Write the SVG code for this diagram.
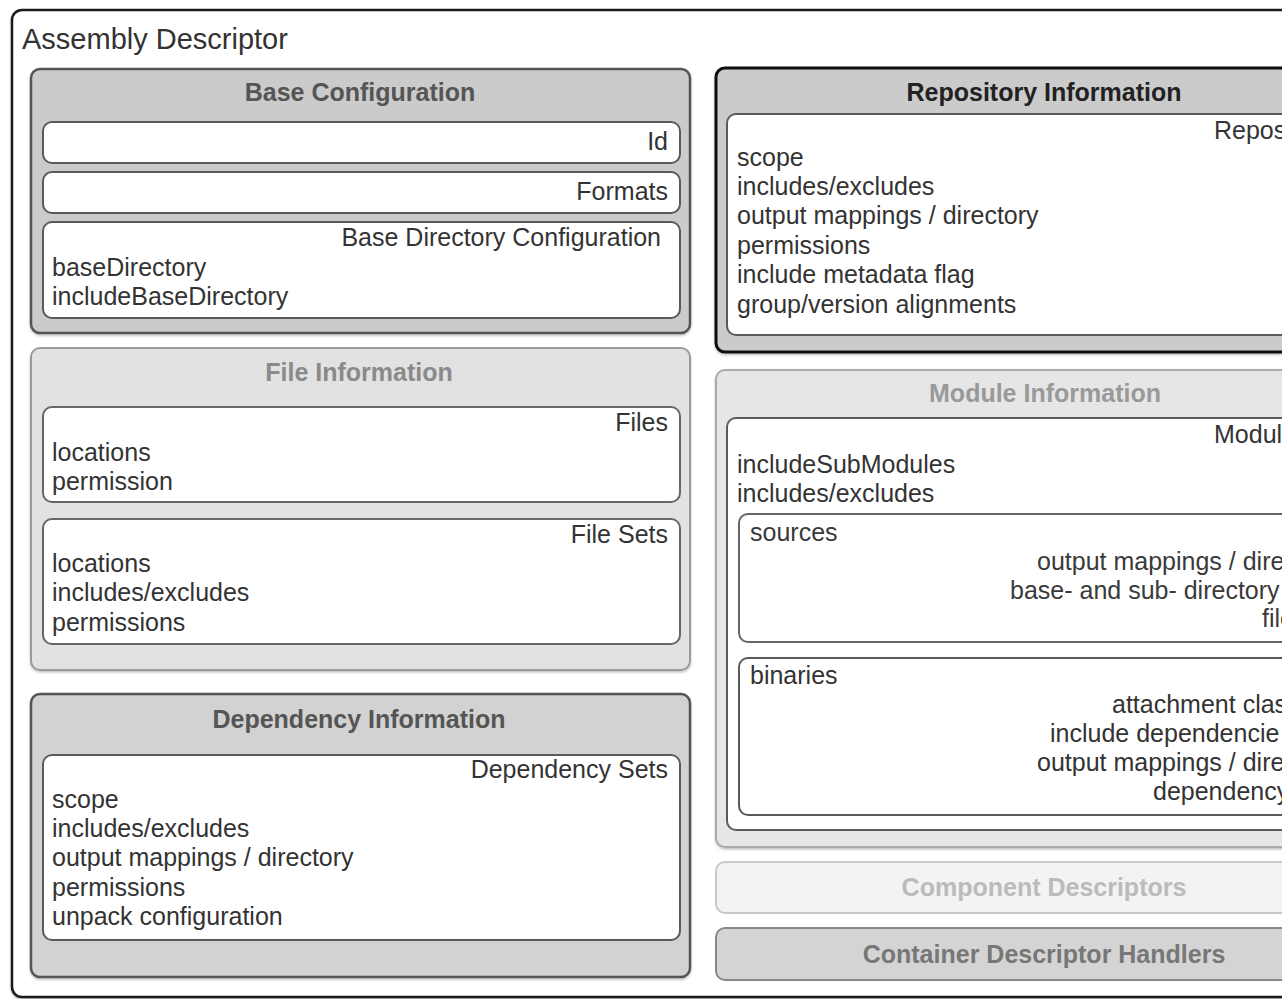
<svg xmlns="http://www.w3.org/2000/svg" width="1282" height="999" viewBox="0 0 1282 999">
<style>
text{font-family:"Liberation Sans",Arial,Helvetica,sans-serif;font-size:25px;fill:#333}
.t{font-weight:bold;text-anchor:middle}
.r{text-anchor:end}
.box{fill:#fff;stroke:#5a5a5a;stroke-width:2}
.sp{fill:#3a3a3a}
</style>
<defs>
<filter id="sh" x="-5%" y="-5%" width="110%" height="110%">
<feDropShadow dx="0" dy="1.5" stdDeviation="1.2" flood-color="#000" flood-opacity="0.25"/>
</filter>
</defs>
<rect x="0" y="0" width="1282" height="999" fill="#fff"/>
<g id="assembly-descriptor">
<rect x="12" y="10" width="1320" height="987" rx="10" fill="#fff" stroke="#1a1a1a" stroke-width="2.5" filter="url(#sh)"/>
<text x="22" y="49" style="font-size:29px">Assembly Descriptor</text>
</g>
<g id="base-configuration">
<rect x="31" y="69" width="659" height="264" rx="9" fill="#cbcbcb" stroke="#555" stroke-width="2.5" filter="url(#sh)"/>
<text class="t" x="360" y="101" style="fill:#555">Base Configuration</text>
<rect class="box" x="43" y="122" width="637" height="41" rx="9"/>
<text class="r" x="668" y="150">Id</text>
<rect class="box" x="43" y="172" width="637" height="41" rx="9"/>
<text class="r" x="668" y="200">Formats</text>
<rect class="box" x="43" y="222" width="637" height="96" rx="9"/>
<text class="r" x="661" y="246">Base Directory Configuration</text>
<text x="52" y="276">baseDirectory</text>
<text x="52" y="305">includeBaseDirectory</text>
</g>
<g id="file-information">
<rect x="31" y="348" width="659" height="322" rx="9" fill="#e2e2e2" stroke="#9a9a9a" stroke-width="2" filter="url(#sh)"/>
<text class="t" x="359" y="381" style="fill:#8a8a8a">File Information</text>
<rect class="box" x="43" y="407" width="637" height="95" rx="9" style="stroke:#666"/>
<text class="r" x="668" y="431">Files</text>
<text x="52" y="461">locations</text>
<text x="52" y="490">permission</text>
<rect class="box" x="43" y="519" width="637" height="125" rx="9" style="stroke:#666"/>
<text class="r" x="668" y="543">File Sets</text>
<text x="52" y="572">locations</text>
<text x="52" y="601">includes/excludes</text>
<text x="52" y="631">permissions</text>
</g>
<g id="dependency-information">
<rect x="31" y="694" width="659" height="283" rx="9" fill="#d2d2d2" stroke="#555" stroke-width="2.5" filter="url(#sh)"/>
<text class="t" x="359" y="728" style="fill:#555">Dependency Information</text>
<rect class="box" x="43" y="755" width="637" height="185" rx="9"/>
<text class="r" x="668" y="778">Dependency Sets</text>
<text x="52" y="808">scope</text>
<text x="52" y="837">includes/excludes</text>
<text x="52" y="866">output mappings / directory</text>
<text x="52" y="896">permissions</text>
<text x="52" y="925">unpack configuration</text>
</g>
<g id="repository-information">
<rect x="716" y="68" width="656" height="284" rx="9" fill="#cbcbcb" stroke="#111" stroke-width="3" filter="url(#sh)"/>
<text class="t" x="1044" y="101" style="fill:#222">Repository Information</text>
<rect class="box" x="727" y="114" width="634" height="221" rx="9"/>
<text x="1214" y="139">Repos</text>
<text x="737" y="166">scope</text>
<text x="737" y="195">includes/excludes</text>
<text x="737" y="224">output mappings / directory</text>
<text x="737" y="254">permissions</text>
<text x="737" y="283">include metadata flag</text>
<text x="737" y="313">group/version alignments</text>
</g>
<g id="module-information">
<rect x="716" y="370" width="656" height="477" rx="9" fill="#e6e6e6" stroke="#aaa" stroke-width="2" filter="url(#sh)"/>
<text class="t" x="1045" y="402" style="fill:#999">Module Information</text>
<rect class="box" x="727" y="418" width="634" height="412" rx="9"/>
<text x="1214" y="443">Modul</text>
<text x="737" y="473">includeSubModules</text>
<text x="737" y="502">includes/excludes</text>
<rect class="box" x="739" y="514" width="610" height="128" rx="9" style="stroke:#666"/>
<text x="750" y="541" class="sp">sources</text>
<text x="1037" y="570" class="sp">output mappings / dire</text>
<text x="1010" y="599" class="sp">base- and sub- directory</text>
<text x="1262" y="627" class="sp">file</text>
<rect class="box" x="739" y="658" width="610" height="157" rx="9"/>
<text x="750" y="684">binaries</text>
<text x="1112" y="713">attachment clas</text>
<text x="1050" y="742">include dependencie</text>
<text x="1037" y="771">output mappings / dire</text>
<text x="1153" y="800">dependency</text>
</g>
<g id="component-descriptors">
<rect x="716" y="862" width="656" height="51" rx="9" fill="#f3f3f3" stroke="#c8c8c8" stroke-width="2"/>
<text class="t" x="1044" y="896" style="fill:#bbb">Component Descriptors</text>
</g>
<g id="container-descriptor-handlers">
<rect x="716" y="928" width="656" height="52" rx="9" fill="#d4d4d4" stroke="#888" stroke-width="2"/>
<text class="t" x="1044" y="963" style="fill:#777">Container Descriptor Handlers</text>
</g>
<g id="connectors"></g>
</svg>
